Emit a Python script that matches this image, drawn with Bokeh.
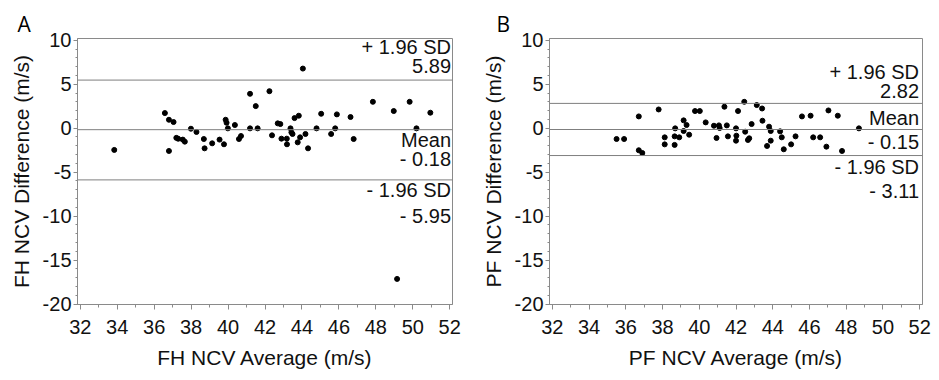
from bokeh.plotting import figure
from bokeh.layouts import row
from bokeh.models import Label, Span, FixedTicker, Range1d, Title
from bokeh.embed import file_html
from bokeh.resources import INLINE

# ---------------- data ----------------
fh_avg = [33.84, 36.58, 36.80, 37.05, 36.80, 37.20, 37.30, 37.55, 37.66, 37.99,
          38.29, 38.69, 38.73, 39.14, 39.54, 39.78, 39.87, 39.92, 39.99, 40.37,
          40.59, 40.70, 41.19, 41.19, 41.50, 41.60, 42.24, 42.38, 42.69, 42.83,
          42.89, 43.18, 43.19, 43.38, 43.43, 43.49, 43.60, 43.83, 43.77, 43.90,
          44.05, 44.19, 44.33, 44.79, 45.04, 45.58, 45.80, 45.89, 46.63, 46.80,
          47.84, 48.97, 49.83, 50.20, 50.95, 49.15]
fh_diff = [-2.47, 1.72, 0.96, 0.70, -2.59, -1.10, -1.20, -1.30, -1.53, -0.06,
           -0.43, -1.23, -2.29, -1.72, -1.30, -1.83, 0.96, 0.62, -0.02, 0.36,
           -1.23, -0.89, 3.91, -0.02, 2.51, -0.02, 4.21, -0.81, 0.55, 0.47,
           -1.19, -1.19, -1.83, -0.02, -0.47, -0.66, 1.15, 1.42, -1.61, -1.04,
           6.78, -0.66, -2.29, -0.02, 1.64, -0.66, -0.02, 1.57, 1.27, -1.23,
           3.00, 1.95, 3.00, -0.02, 1.76, -17.14]

pf_avg = [35.50, 35.91, 36.71, 36.71, 36.90, 37.79, 38.12, 38.12, 38.66, 38.69,
          38.66, 38.91, 39.15, 39.15, 39.31, 39.45, 39.77, 40.03, 40.35, 40.80,
          40.94, 41.07, 41.11, 41.37, 41.50, 41.56, 42.00, 42.02, 42.00, 42.11,
          42.45, 42.50, 42.65, 42.72, 42.85, 43.13, 43.42, 43.44, 43.69, 43.80,
          43.89, 43.89, 44.40, 44.49, 44.60, 45.00, 45.24, 45.59, 46.06, 46.20,
          46.58, 47.03, 46.92, 47.54, 47.77, 48.69]
pf_diff = [-1.23, -1.23, 1.34, -2.51, -2.82, 2.13, -1.04, -1.84, -1.90, -0.02,
           -0.93, -1.04, 0.89, -0.32, 0.36, -0.74, 1.95, 1.95, 0.66, 0.28,
           -1.11, 0.32, 0.02, 2.44, 0.32, -0.93, -0.02, -0.85, -1.42, 1.95,
           3.00, -0.40, -1.34, -1.15, 0.47, 2.63, 2.24, 0.85, -2.02, 0.17,
           -0.32, -1.42, -0.36, -1.04, -2.40, -1.84, -0.93, 1.34, 1.42, -1.04,
           -1.04, 2.02, -2.10, 1.42, -2.59, -0.02]

# limit lines (upper, mean, lower) as drawn, and their printed labels
fh_limits = [5.47, -0.17, -5.88]
pf_limits = [2.82, -0.15, -3.11]
fh_texts = ["+ 1.96 SD", "5.89", "Mean", "- 0.18", "- 1.96 SD", "- 5.95"]
pf_texts = ["+ 1.96 SD", "2.82", "Mean", "- 0.15", "- 1.96 SD", "- 3.11"]

x_ticks = [32, 34, 36, 38, 40, 42, 44, 46, 48, 50, 52]
x_minor = list(range(32, 53))
y_ticks = [-20, -15, -10, -5, 0, 5, 10]
y_minor = list(range(-20, 11))

FONT = "Liberation Sans"
GRAY = "#8a8a8a"


def make_panel(avg, diff, limits, texts, letter, xlabel, ylabel,
               width, border_left, border_right, text_offsets, text_dx, letter_dx):
    p = figure(width=width, height=379, output_backend="svg", toolbar_location=None,
               x_range=Range1d(31.85, 52.15), y_range=Range1d(-20.05, 10.2),
               min_border_left=border_left, min_border_right=border_right,
               min_border_top=38, min_border_bottom=75)
    p.background_fill_color = "white"
    p.border_fill_color = "white"
    p.outline_line_color = GRAY
    p.outline_line_width = 1
    p.grid.visible = False

    p.title = Title(text=letter, align="left", offset=letter_dx, standoff=2,
                    text_font="Open Sans", text_font_size="21px",
                    text_font_style="normal", text_color="black")

    p.xaxis.ticker = FixedTicker(ticks=x_ticks, minor_ticks=x_minor)
    p.yaxis.ticker = FixedTicker(ticks=y_ticks, minor_ticks=y_minor)
    p.xaxis.major_label_overrides = {v: str(v) for v in x_ticks}
    p.yaxis.major_label_overrides = {v: str(v) for v in y_ticks}
    for ax in (p.xaxis[0], p.yaxis[0]):
        ax.axis_line_color = GRAY
        ax.major_tick_line_color = GRAY
        ax.minor_tick_line_color = GRAY
        ax.major_tick_in = 0
        ax.minor_tick_in = 0
        ax.major_label_text_font = FONT
        ax.major_label_text_font_size = "20px"
        ax.major_label_text_color = "#111111"
        ax.axis_label_text_font = FONT
        ax.axis_label_text_font_size = "21px"
        ax.axis_label_text_font_style = "normal"
        ax.axis_label_text_color = "#111111"
    p.xaxis.major_tick_out = 5
    p.xaxis.minor_tick_out = 3
    p.xaxis.major_label_standoff = 10
    p.xaxis.axis_label_standoff = 9
    p.yaxis.major_tick_out = 4
    p.yaxis.minor_tick_out = 2
    p.yaxis.major_label_standoff = 2
    p.yaxis.axis_label_standoff = 7
    p.xaxis.axis_label = xlabel
    p.yaxis.axis_label = ylabel

    for v in limits:
        p.add_layout(Span(location=v, dimension="width", line_color="#7f7f7f", line_width=1))

    p.scatter(avg, diff, marker="circle", size=5, fill_color="black", line_color="black")

    line_for_text = [limits[0], limits[0], limits[1], limits[1], limits[2], limits[2]]
    for t, yv, dy in zip(texts, line_for_text, text_offsets):
        p.add_layout(Label(x=52.15, y=yv, text=t, x_offset=text_dx, y_offset=dy + 7,
                           text_align="right", text_baseline="alphabetic",
                           text_font=FONT, text_font_size="20px", text_color="#111111"))
    return p


pA = make_panel(fh_avg, fh_diff, fh_limits, fh_texts, "A",
                "FH NCV Average (m/s)", "FH NCV Difference (m/s)",
                478, 77, 26, [26.5, 7.5, -17, -36, -17.5, -42.7], -1.5, -60)
pB = make_panel(pf_avg, pf_diff, pf_limits, pf_texts, "B",
                "PF NCV Average (m/s)", "PF NCV Difference (m/s)",
                460, 71, 16, [24.7, 5.7, 5, -19.3, -18.5, -42.4], -3.5, -53)

layout = row(pA, pB)
open("out.html", "w").write(file_html(layout, INLINE))
